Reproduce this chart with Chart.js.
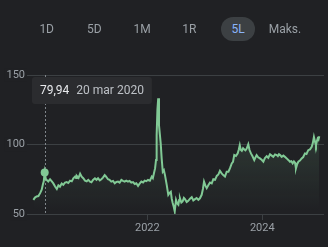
<!DOCTYPE html>
<html>
<head>
<meta charset="utf-8">
<script src="https://cdn.jsdelivr.net/npm/chart.js@4.4.1/dist/chart.umd.min.js"></script>
<style>
  html, body { margin: 0; padding: 0; background: #202124; }
  #wrap { position: relative; width: 328px; height: 247px; overflow: hidden; font-family: Roboto, Arial, sans-serif; }
  canvas { position: absolute; left: 0; top: 0; }
  .btn { position: absolute; top: 17px; height: 24px; line-height: 24px; font-size: 12px; color: #9aa0a6; transform: translateX(-50%); text-align: center; white-space: nowrap; }
  .btn.on { width: 34px; border-radius: 12px; background: #3c4043; color: #8ab4f8; }
</style>
</head>
<body>
<div id="wrap">
  <canvas id="chart" width="328" height="247"></canvas>
  <div class="btn" style="left:46.7px">1D</div>
  <div class="btn" style="left:94.3px">5D</div>
  <div class="btn" style="left:142px">1M</div>
  <div class="btn" style="left:189.3px">1R</div>
  <div class="btn on" style="left:238px">5L</div>
  <div class="btn" style="left:285px">Maks.</div>
</div>
<script>
// dane (5 lat)
const dates = [
  '2020-01-08','2020-01-18','2020-01-29','2020-02-09','2020-02-20','2020-03-01','2020-03-08','2020-03-14',
  '2020-03-20','2020-03-27','2020-04-02','2020-04-12','2020-04-23','2020-05-03','2020-05-14','2020-05-25',
  '2020-06-05','2020-06-15','2020-06-25','2020-07-06','2020-07-16','2020-07-27','2020-08-07','2020-08-17',
  '2020-08-28','2020-09-08','2020-09-18','2020-09-29','2020-10-05','2020-10-10','2020-10-21','2020-10-31',
  '2020-11-10','2020-11-20','2020-12-01','2020-12-12','2020-12-22','2021-01-02','2021-01-11','2021-01-21',
  '2021-02-02','2021-02-12','2021-02-22','2021-03-05','2021-03-15','2021-03-25','2021-04-05','2021-04-13',
  '2021-04-26','2021-05-06','2021-05-17','2021-05-28','2021-06-08','2021-06-18','2021-06-29','2021-07-09',
  '2021-07-20','2021-07-30','2021-08-10','2021-08-20','2021-08-31','2021-09-10','2021-09-21','2021-10-02',
  '2021-10-13','2021-10-23','2021-11-03','2021-11-13','2021-11-24','2021-12-05','2021-12-15','2021-12-25',
  '2022-01-05','2022-01-17','2022-01-29','2022-02-05','2022-02-12','2022-02-19','2022-02-25','2022-03-01',
  '2022-03-06','2022-03-11','2022-03-16','2022-03-27','2022-04-02','2022-04-09','2022-04-16','2022-04-23',
  '2022-05-04','2022-05-14','2022-05-22','2022-05-30','2022-06-05','2022-06-11','2022-06-18','2022-06-24',
  '2022-07-02','2022-07-10','2022-07-17','2022-07-22','2022-07-27','2022-08-05','2022-08-13','2022-08-21',
  '2022-08-28','2022-09-08','2022-09-18','2022-09-29','2022-10-10','2022-10-20','2022-10-31','2022-11-10',
  '2022-11-21','2022-12-01','2022-12-12','2022-12-20','2022-12-27','2023-01-05','2023-01-13','2023-01-24',
  '2023-02-03','2023-02-14','2023-02-24','2023-03-07','2023-03-18','2023-03-28','2023-04-07','2023-04-18',
  '2023-04-28','2023-05-09','2023-05-20','2023-05-31','2023-06-10','2023-06-21','2023-06-29','2023-07-07',
  '2023-07-18','2023-07-29','2023-08-04','2023-08-11','2023-08-17','2023-08-24','2023-09-01','2023-09-09',
  '2023-09-16','2023-09-24','2023-10-04','2023-10-12','2023-10-21','2023-10-31','2023-11-11','2023-11-18',
  '2023-11-26','2023-12-06','2023-12-17','2023-12-28','2024-01-08','2024-01-18','2024-01-29','2024-02-08',
  '2024-02-19','2024-03-01','2024-03-11','2024-03-22','2024-04-02','2024-04-09','2024-04-16','2024-04-25',
  '2024-05-03','2024-05-14','2024-05-24','2024-06-04','2024-06-14','2024-06-25','2024-07-04','2024-07-12',
  '2024-07-20','2024-07-27','2024-08-02','2024-08-10','2024-08-17','2024-08-27','2024-09-07','2024-09-17',
  '2024-09-28','2024-10-08','2024-10-19','2024-10-30','2024-11-10','2024-11-17','2024-11-24','2024-12-01',
  '2024-12-07','2024-12-13','2024-12-18','2024-12-23','2024-12-28'
];
const prices = [
  60.2, 61.8, 62.6, 62.9, 65.0, 67.5, 71.0, 73.5,
  79.94, 75.2, 74.5, 73.4, 75.0, 73.6, 72.0, 69.8,
  68.0, 70.6, 69.7, 71.9, 71.0, 72.6, 73.0, 72.3,
  74.0, 73.5, 75.7, 76.9, 75.9, 77.4, 76.0, 79.0,
  76.8, 75.7, 74.0, 73.5, 74.6, 73.3, 72.8, 74.5,
  75.7, 74.6, 75.7, 74.2, 75.0, 76.2, 78.0, 77.0,
  75.0, 74.6, 73.3, 73.8, 72.1, 73.0, 73.3, 72.6,
  74.5, 73.8, 73.3, 74.0, 73.3, 73.8, 72.6, 73.0,
  71.6, 72.1, 70.2, 71.8, 73.3, 72.7, 74.0, 73.6,
  74.5, 74.0, 76.9, 75.8, 79.3, 82.8, 88.8, 106.6,
  125.0, 133.3, 113.8, 100.7, 90.0, 80.4, 81.5, 78.0,
  71.0, 63.8, 65.2, 66.0, 61.0, 57.9, 55.0, 51.9,
  60.2, 57.5, 56.6, 60.0, 61.4, 58.2, 59.0, 61.6,
  60.7, 58.6, 59.5, 61.0, 62.1, 59.8, 60.7, 61.5,
  60.2, 61.3, 63.8, 68.0, 73.3, 70.4, 68.6, 70.8,
  72.6, 72.0, 75.0, 74.6, 77.4, 78.4, 81.1, 79.2,
  78.0, 76.9, 80.4, 80.4, 83.0, 86.4, 87.5, 92.4,
  91.8, 93.6, 96.0, 99.5, 96.2, 95.4, 97.3, 96.4,
  95.8, 97.1, 100.2, 96.0, 93.6, 91.5, 88.8, 90.6,
  92.4, 90.8, 90.0, 89.0, 87.6, 90.3, 91.6, 90.5,
  93.0, 92.0, 91.1, 92.8, 92.4, 91.6, 93.0, 92.2,
  91.1, 92.0, 91.1, 90.0, 88.9, 87.6, 88.0, 86.4,
  87.8, 86.9, 82.8, 86.0, 87.6, 88.4, 90.0, 91.0,
  93.6, 93.2, 95.9, 96.5, 98.3, 101.0, 105.4, 102.0,
  99.5, 102.5, 104.3, 103.5, 105.9
];
const yTicks = [50, 100, 150];
const xTickYears = [2022, 2024];
const hoverDate = '2020-03-20';
const hoverLabel = '20 mar 2020';

const hoverIdx = dates.indexOf(hoverDate);
const lineColor = '#81c995';

Chart.defaults.font.family = 'Roboto, Arial, sans-serif';

// linia przerywana + dymek z wartoscia
const hoverPlugin = {
  id: 'hover',
  beforeDatasetsDraw(chart) {
    const c = chart.ctx, a = chart.chartArea;
    const pt = chart.getDatasetMeta(0).data[hoverIdx];
    const x = Math.round(pt.x) + 0.5;
    c.save();
    c.strokeStyle = '#80868b';
    c.lineWidth = 1;
    c.setLineDash([2, 2]);
    c.beginPath();
    c.moveTo(x, a.top);
    c.lineTo(x, a.bottom);
    c.stroke();
    c.restore();
  },
  afterDatasetsDraw(chart) {
    const c = chart.ctx, a = chart.chartArea;
    const val = prices[hoverIdx].toFixed(2).replace('.', ',');
    c.save();
    c.font = '12px Roboto, Arial, sans-serif';
    const w1 = c.measureText(val).width;
    const w2 = c.measureText(hoverLabel).width;
    const gap = 7, pad = 8;
    const w = pad + w1 + gap + w2 + pad;
    const left = a.left + 4, top = a.top + 2, h = 27;
    c.fillStyle = '#2b2c2f';
    c.beginPath();
    c.roundRect(left, top, w, h, 3);
    c.fill();
    c.textBaseline = 'middle';
    c.fillStyle = '#e8eaed';
    c.fillText(val, left + pad, top + h / 2);
    c.fillStyle = '#bdc1c6';
    c.fillText(hoverLabel, left + pad + w1 + gap, top + h / 2);
    c.restore();
  }
};

new Chart(document.getElementById('chart'), {
  type: 'line',
  data: {
    datasets: [{
      data: dates.map((d, i) => ({ x: Date.parse(d), y: prices[i] })),
      borderColor: lineColor,
      borderWidth: 2,
      tension: 0,
      fill: 'start',
      backgroundColor: ctx => {
        const ch = ctx.chart;
        if (!ch.chartArea) return 'transparent';
        const ys = ch.scales.y;
        const g = ch.ctx.createLinearGradient(0, ys.getPixelForValue(115), 0, ys.getPixelForValue(52));
        g.addColorStop(0, 'rgba(129,201,149,0.16)');
        g.addColorStop(1, 'rgba(129,201,149,0)');
        return g;
      },
      pointRadius: ctx => ctx.dataIndex === hoverIdx ? 4 : 0,
      pointBackgroundColor: lineColor,
      pointBorderWidth: 0
    }]
  },
  options: {
    responsive: false,
    animation: false,
    events: [],
    layout: { padding: { left: 0, right: 4, top: 75, bottom: 12 } },
    plugins: { legend: { display: false }, tooltip: { enabled: false } },
    scales: {
      x: {
        type: 'linear',
        min: Date.UTC(2019, 11, 5),
        max: Date.UTC(2025, 0, 27),
        afterBuildTicks: s => { s.ticks = xTickYears.map(y => ({ value: Date.UTC(y, 0, 1) })); },
        afterFit: s => { s.height = 21; },
        grid: { drawOnChartArea: false, drawTicks: true, tickLength: 6, color: '#3c4043' },
        border: { display: false },
        ticks: {
          color: '#9aa0a6', font: { size: 11 }, padding: 2, maxRotation: 0, autoSkip: false,
          callback: v => new Date(v).getUTCFullYear()
        }
      },
      y: {
        min: 50,
        max: 150,
        afterBuildTicks: s => { s.ticks = yTicks.map(v => ({ value: v })); },
        afterFit: s => { s.width = 28; },
        grid: { color: '#3c4043', drawTicks: true, tickLength: 8, tickColor: '#3c4043' },
        border: { display: false },
        ticks: {
          color: '#9aa0a6', font: { size: 11 }, padding: -5,
          showLabelBackdrop: true, backdropColor: '#202124',
          backdropPadding: { left: 2, right: 2, top: 0, bottom: 0 }
        }
      }
    }
  },
  plugins: [hoverPlugin]
});
</script>
</body>
</html>
